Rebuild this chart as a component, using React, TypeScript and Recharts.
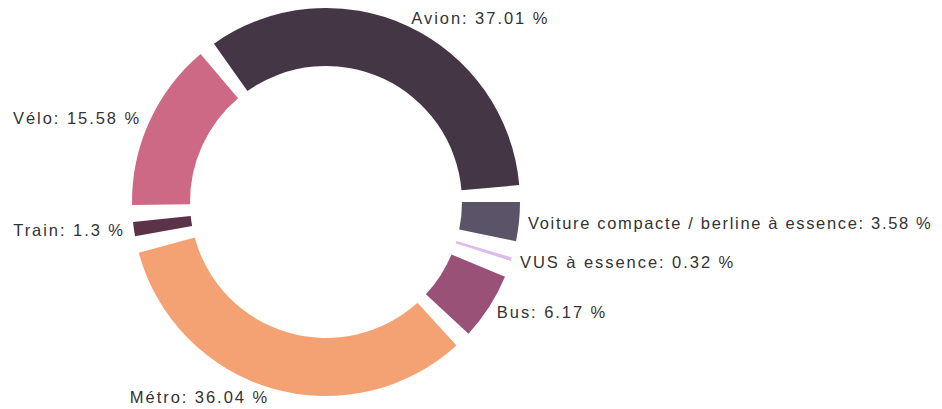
import React from "react";
import { PieChart, Pie, Cell } from "recharts";

const categories = ["Avion", "Vélo", "Train", "Métro", "Bus", "VUS à essence", "Voiture compacte / berline à essence"];
const shares = [37.01, 15.58, 1.3, 36.04, 6.17, 0.32, 3.58];
const colors = ["#453645", "#cd6984", "#5c3249", "#f4a274", "#9a5177", "#dbbbe9", "#5b5468"];

const data = categories.map((name, i) => ({ name, value: shares[i] }));

const RADIAN = Math.PI / 180;
const CHART_W = 942;
const FONT_SIZE = 16.5;
const SPACING = 1.95;

const renderLabel = (props: any) => {
  const { cx, cy, midAngle, outerRadius, name, value } = props;
  const r = outerRadius + 9;
  const x = cx + r * Math.cos(-midAngle * RADIAN);
  const y = cy + r * Math.sin(-midAngle * RADIAN);
  const anchor = x >= cx ? "start" : "end";
  const label = `${name}: ${value} %`;
  const baseEst = label.length * FONT_SIZE * 0.45;
  const available = anchor === "start" ? CHART_W - x - 8 : x - 8;
  let spacing = SPACING;
  if (baseEst + label.length * SPACING > available) {
    spacing = Math.max(0, (available - 6 - baseEst) / label.length);
  }
  return (
    <text
      x={x}
      y={y}
      textAnchor={anchor}
      dominantBaseline="central"
      fill="#333"
      fontSize={FONT_SIZE}
      letterSpacing={spacing}
      fontFamily="'Liberation Sans', Arial, sans-serif"
    >
      {label}
    </text>
  );
};

export default function App() {
  return (
    <div style={{ position: "fixed", left: 0, top: 0, width: CHART_W, height: 409, background: "#fff" }}>
      <PieChart width={CHART_W} height={409} margin={{ top: 0, right: 0, bottom: 0, left: 0 }}>
        <Pie
          data={data}
          dataKey="value"
          nameKey="name"
          cx={326}
          cy={202}
          innerRadius={136}
          outerRadius={194}
          startAngle={5}
          endAngle={365}
          paddingAngle={5}
          stroke="none"
          label={renderLabel}
          labelLine={false}
          isAnimationActive={false}
        >
          {data.map((d, i) => (
            <Cell key={d.name} fill={colors[i]} />
          ))}
        </Pie>
      </PieChart>
    </div>
  );
}
